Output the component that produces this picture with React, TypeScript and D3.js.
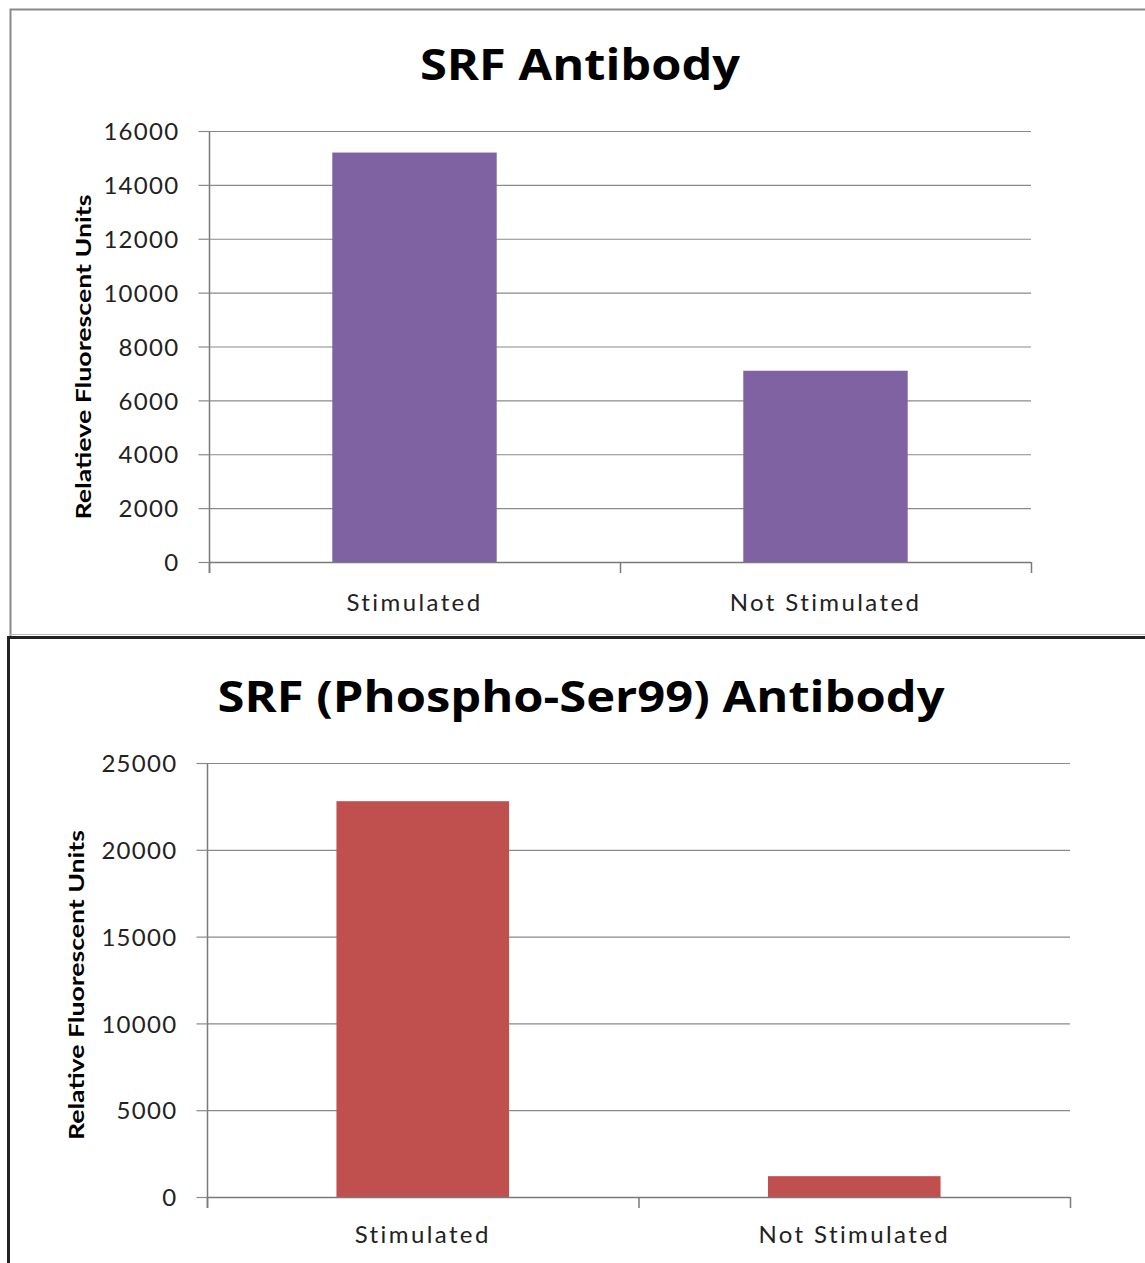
import React, { useEffect, useRef } from 'react';
import * as d3 from 'd3';

// categories shared by both panels
const categories = ['Stimulated', 'Not Stimulated'];

// panel 1 : SRF Antibody
const srfValues = [15200, 7100];
const srfTicks = [0, 2000, 4000, 6000, 8000, 10000, 12000, 14000, 16000];

// panel 2 : SRF (Phospho-Ser99) Antibody
const phosphoValues = [22800, 1200];
const phosphoTicks = [0, 5000, 10000, 15000, 20000, 25000];

const FONT = 'Lato, "Open Sans", "Liberation Sans", sans-serif';
const TITLE_FONT = '"Open Sans", Lato, "Liberation Sans", sans-serif';

function drawPanel(svg, opts) {
  const g = svg.append('g');

  // frame
  g.append('path')
    .attr('d', opts.frame)
    .attr('fill', 'none')
    .attr('stroke', opts.frameColor)
    .attr('stroke-width', opts.frameWidth);

  const x = d3.scaleBand().domain(categories).range([opts.left, opts.right]).paddingInner(0).paddingOuter(0);
  const y = d3.scaleLinear().domain([0, d3.max(opts.ticks)]).range([opts.bottom, opts.top]);

  // gridlines
  g.selectAll('.grid')
    .data(opts.ticks.filter(t => t > 0))
    .enter()
    .append('line')
    .attr('x1', opts.left)
    .attr('x2', opts.right)
    .attr('y1', d => y(d) + 0.5)
    .attr('y2', d => y(d) + 0.5)
    .attr('stroke', '#8a8a8a')
    .attr('stroke-width', 1.2);

  // bars
  const barW = x.bandwidth() * 0.4;
  g.selectAll('.bar')
    .data(opts.values)
    .enter()
    .append('rect')
    .attr('x', (d, i) => x(categories[i]) + (x.bandwidth() - barW) / 2)
    .attr('y', d => y(d))
    .attr('width', barW)
    .attr('height', d => opts.bottom - y(d))
    .attr('fill', opts.color);

  // y axis
  const yAxis = d3.axisLeft(y).tickValues(opts.ticks).tickSize(11).tickPadding(19).tickFormat(d3.format('d'));
  const ya = g.append('g').attr('transform', `translate(${opts.left + 0.5},0)`).call(yAxis);
  ya.select('.domain').attr('stroke', '#7a7a7a').attr('stroke-width', 1.5).attr('d', `M0,${opts.top}V${opts.bottom + 11}`);
  ya.selectAll('.tick line').attr('stroke', '#8a8a8a').attr('stroke-width', 1.2);
  ya.selectAll('.tick text')
    .attr('font-family', FONT)
    .attr('font-size', 24)
    .attr('letter-spacing', 1.3)
    .attr('fill', '#222')
    .attr('dy', '0.36em');

  // x axis line with category boundary ticks
  const xa = g.append('g');
  xa.append('line')
    .attr('x1', opts.left)
    .attr('x2', opts.right)
    .attr('y1', opts.bottom + 0.5)
    .attr('y2', opts.bottom + 0.5)
    .attr('stroke', '#7a7a7a')
    .attr('stroke-width', 1.5);
  const bounds = [opts.left, ...categories.map(c => x(c) + x.bandwidth())];
  xa.selectAll('.xt')
    .data(bounds)
    .enter()
    .append('line')
    .attr('x1', d => d + 0.5)
    .attr('x2', d => d + 0.5)
    .attr('y1', opts.bottom)
    .attr('y2', opts.bottom + 11)
    .attr('stroke', '#7a7a7a')
    .attr('stroke-width', 1.5);
  xa.selectAll('.xl')
    .data(categories)
    .enter()
    .append('text')
    .attr('x', d => x(d) + x.bandwidth() / 2)
    .attr('y', opts.bottom + opts.labelGap)
    .attr('text-anchor', 'middle')
    .attr('font-family', FONT)
    .attr('font-size', 24)
    .attr('letter-spacing', 2.4)
    .attr('fill', '#222')
    .text(d => d);

  // title
  g.append('text')
    .attr('x', opts.titleX)
    .attr('y', opts.titleY)
    .attr('text-anchor', 'middle')
    .attr('font-family', TITLE_FONT)
    .attr('font-weight', 'bold')
    .attr('font-size', 43)
    .attr('textLength', opts.titleW)
    .attr('lengthAdjust', 'spacingAndGlyphs')
    .attr('fill', '#000')
    .text(opts.title);

  // y axis title
  g.append('text')
    .attr('transform', `translate(${opts.yTitleX},${opts.yTitleY}) rotate(-90)`)
    .attr('text-anchor', 'middle')
    .attr('font-family', FONT)
    .attr('font-weight', 'bold')
    .attr('font-size', 21)
    .attr('textLength', opts.yTitleW)
    .attr('lengthAdjust', 'spacingAndGlyphs')
    .attr('fill', '#000')
    .text(opts.yTitle);
}

export default function App() {
  const ref = useRef(null);

  useEffect(() => {
    const svg = d3.select(ref.current);
    svg.selectAll('*').remove();

    drawPanel(svg, {
      frame: 'M10.5,1270V9.5H1160',
      frameColor: '#8a8a8a',
      frameWidth: 2,
      left: 209,
      right: 1031,
      top: 131,
      bottom: 562,
      ticks: srfTicks,
      values: srfValues,
      color: '#7f62a1',
      labelGap: 49,
      title: 'SRF Antibody',
      titleX: 580,
      titleY: 80,
      titleW: 320,
      yTitle: 'Relatieve Fluorescent Units',
      yTitleX: 91,
      yTitleY: 357,
      yTitleW: 325,
    });

    // white out the lower part of panel 1 frame and draw the lower panel
    svg.append('rect').attr('x', 0).attr('y', 636).attr('width', 1145).attr('height', 640).attr('fill', '#fff');
    svg.append('line')
      .attr('x1', 10).attr('x2', 1145).attr('y1', 634.5).attr('y2', 634.5)
      .attr('stroke', '#bbb').attr('stroke-width', 1);

    drawPanel(svg, {
      frame: 'M8.5,1270V637.5H1160',
      frameColor: '#222',
      frameWidth: 3,
      left: 207,
      right: 1070,
      top: 763,
      bottom: 1197,
      ticks: phosphoTicks,
      values: phosphoValues,
      color: '#c0504d',
      labelGap: 46,
      title: 'SRF (Phospho-Ser99) Antibody',
      titleX: 581,
      titleY: 712,
      titleW: 727,
      yTitle: 'Relative Fluorescent Units',
      yTitleX: 84,
      yTitleY: 985,
      yTitleW: 310,
    });
  }, []);

  return (
    <div style={{ position: 'absolute', left: 0, top: 0 }}>
      <svg ref={ref} width={1145} height={1263} style={{ display: 'block', background: '#fff' }} />
    </div>
  );
}
